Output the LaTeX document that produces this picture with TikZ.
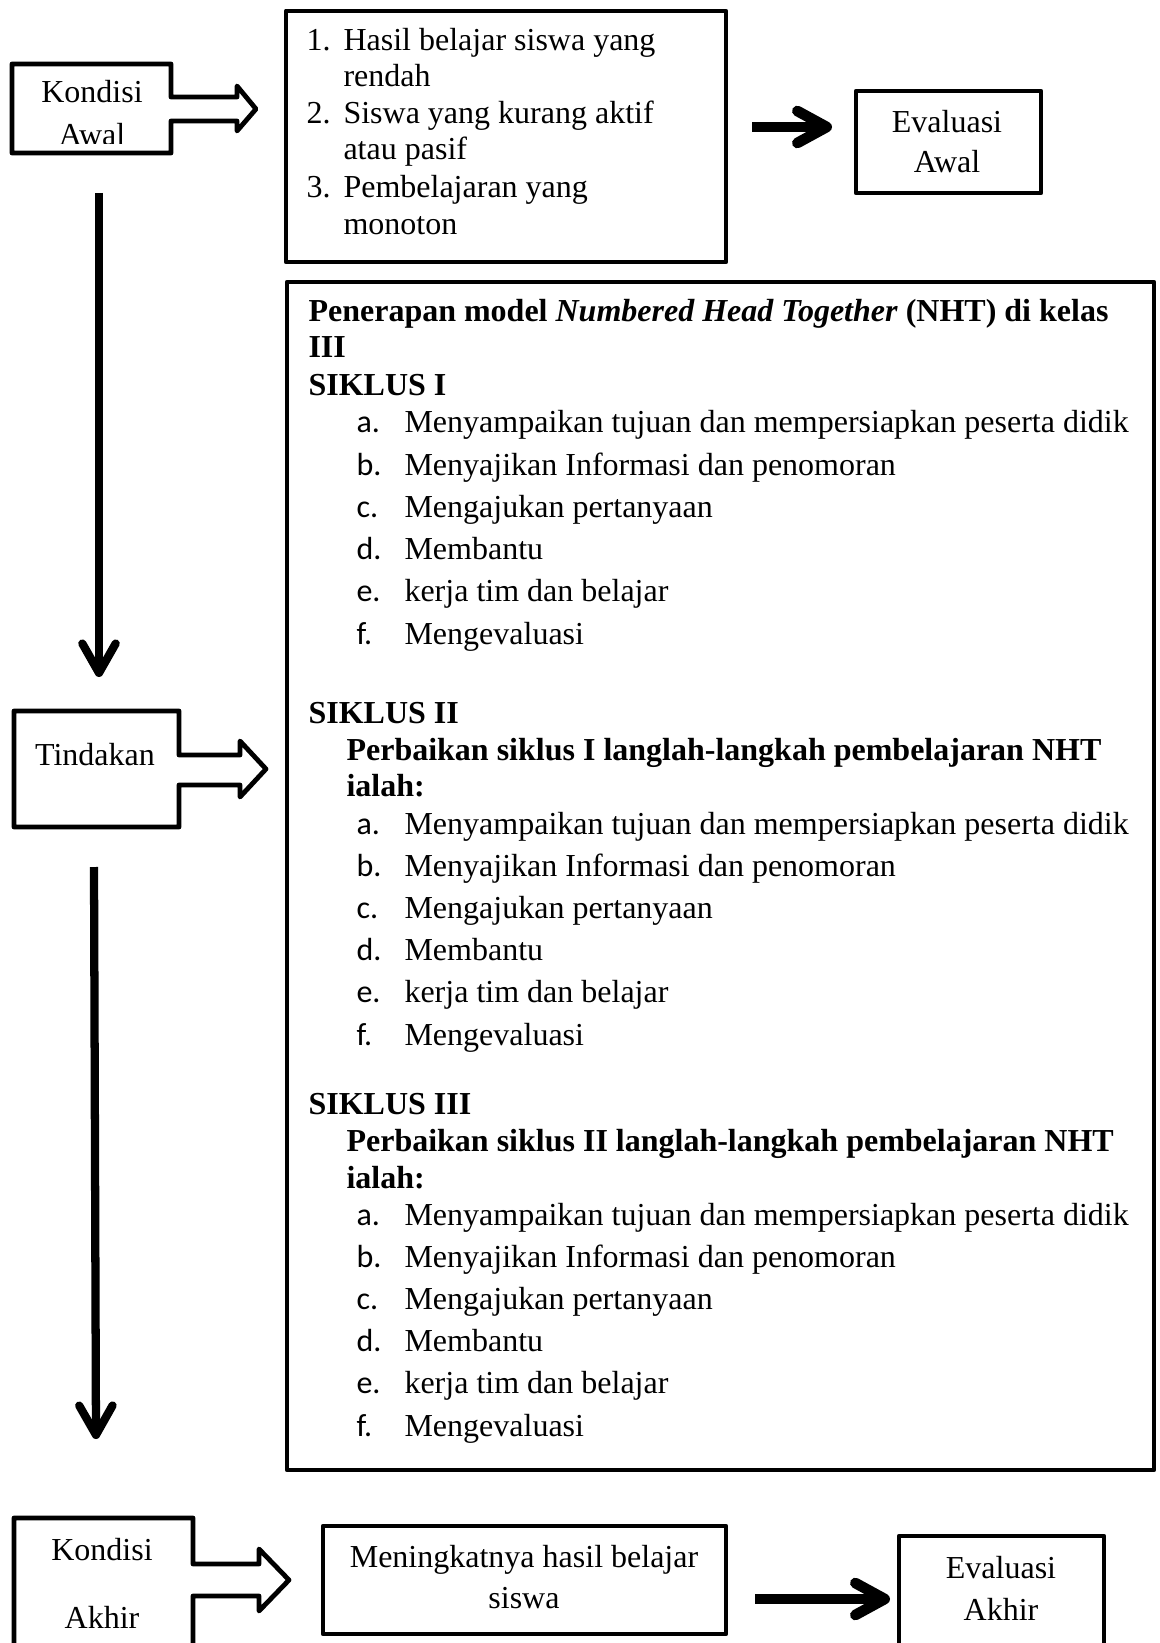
\documentclass[tikz,border=0pt]{standalone}
\usepackage{fontspec}
\setmainfont{Liberation Serif}
\newfontfamily\labelfont{Carlito}
\usetikzlibrary{arrows.meta,fit}

\begin{document}
\begin{tikzpicture}[x=0.375pt,y=-0.375pt,
    every node/.style={inner sep=0pt, font=\fontsize{12}{14}\selectfont},
    box/.style={draw, line width=1.8pt, inner sep=0pt, line join=round},
    outline/.style={draw, line width=1.8pt, line join=round},
    txt/.style={anchor=base},
    ltxt/.style={anchor=base west},
    lab/.style={anchor=base west, font=\labelfont\fontsize{12}{14}\selectfont},
    downarr/.style={line width=3.1pt, -{Straight Barb[length=11pt,width=12.5pt,round]}},
    rightarr/.style={line width=4pt, -{Straight Barb[length=11pt,width=12pt,round]}}]
\useasboundingbox (0,0) rectangle (1160,1643);

% kiri: kondisi awal, tindakan, kondisi akhir
\draw[outline] (171,97) -- (237,97) -- (237,86) -- (256,109) -- (237,131) -- (237,121)
  -- (171,121) -- (171,153) -- (12,153) -- (12,64) -- (171,64) -- cycle;
\node[txt] (awal1) at (92,103) {Kondisi};
\begin{scope}
  \clip (12,64) rectangle (171,144);
  \node[txt] (awal2) at (92,146) {Awal};
\end{scope}

\draw[outline] (179,755) -- (240,755) -- (240,741) -- (266,769) -- (240,797) -- (240,785)
  -- (179,785) -- (179,827) -- (14,827) -- (14,711) -- (179,711) -- cycle;
\node[txt] (tindakan) at (95,765) {Tindakan};

\draw[outline] (193,1564) -- (259,1564) -- (259,1549) -- (289,1580) -- (259,1611) -- (259,1596)
  -- (193,1596) -- (193,1648) -- (14,1648) -- (14,1518) -- (193,1518) -- cycle;
\node[txt] (akhir1) at (102,1560) {Kondisi};
\node[txt] (akhir2) at (102,1628) {Akhir};

% panah turun
\coordinate (v1s) at (99,193);
\coordinate (v1e) at (99,677);
\coordinate (v2s) at (94,867);
\coordinate (v2e) at (96,1439);
\draw[downarr] (v1s) -- (v1e);
\draw[downarr] (v2s) -- (v2e);

% masalah awal
\node[box, fit={(286,11) (726,262)}] (masalah) {};
\node[ltxt] (num1) at (306,51) {1.};
\node[ltxt] (hasil1) at (343,51) {Hasil belajar siswa yang};
\node[ltxt] (hasil2) at (343,87) {rendah};
\node[ltxt] (num2) at (306,124) {2.};
\node[ltxt] (siswa1) at (343,124) {Siswa yang kurang aktif};
\node[ltxt] (siswa2) at (343,160) {atau pasif};
\node[ltxt] (num3) at (306,198) {3.};
\node[ltxt] (ajar1) at (343,198) {Pembelajaran yang};
\node[ltxt] (ajar2) at (343,235) {monoton};

\node[box, fit={(856,91) (1041,193)}] (evalawal) {};
\node[txt] (eval1) at (947,133) {Evaluasi};
\node[txt] (eval2) at (947,173) {Awal};

\coordinate (h1s) at (752,127);
\coordinate (h1e) at (832,127);
\draw[rightarr] (h1s) -- (h1e);

% tindakan NHT
\node[box, fit={(287,282) (1154,1470)}] (nht) {};
\node[ltxt] (judul1) at (308,322) {\bfseries Penerapan model \textit{Numbered Head Together} (NHT) di kelas};
\node[ltxt] (judul2) at (308,358) {\bfseries III};
\node[ltxt] (siklus1) at (308,396) {\bfseries SIKLUS I};
\node[ltxt] (siklus2) at (308,723) {\bfseries SIKLUS II};
\node[ltxt] (baik2a) at (346,760) {\bfseries Perbaikan siklus I langlah-langkah pembelajaran NHT};
\node[ltxt] (baik2b) at (346,796) {\bfseries ialah:};
\node[ltxt] (siklus3) at (308,1114) {\bfseries SIKLUS III};
\node[ltxt] (baik3a) at (346,1151) {\bfseries Perbaikan siklus II langlah-langkah pembelajaran NHT};
\node[ltxt] (baik3b) at (346,1188) {\bfseries ialah:};

\foreach \k/\y in {1/433, 2/834, 3/1225}
  \foreach \lbl/\what [count=\i from 0] in {a./Menyampaikan tujuan dan mempersiapkan peserta didik,
      b./Menyajikan Informasi dan penomoran, c./Mengajukan pertanyaan, d./Membantu,
      e./kerja tim dan belajar, f./Mengevaluasi} {
    \node[lab] (lab-\k-\i) at (356,{\y+42.2*\i}) {\lbl};
    \node[ltxt] (item-\k-\i) at (404,{\y+42.2*\i}) {\what};
  }

% kondisi akhir
\node[box, fit={(323,1526) (726,1634)}] (hasil) {};
\node[txt] (hasilt1) at (524,1567) {Meningkatnya hasil belajar};
\node[txt] (hasilt2) at (524,1608) {siswa};

\node[box, fit={(899,1536) (1104,1648)}] (evalakhir) {};
\node[txt] (evak1) at (1001,1578) {Evaluasi};
\node[txt] (evak2) at (1001,1620) {Akhir};

\coordinate (h2s) at (755,1599);
\coordinate (h2e) at (890,1599);
\draw[rightarr] (h2s) -- (h2e);
\end{tikzpicture}
\end{document}
